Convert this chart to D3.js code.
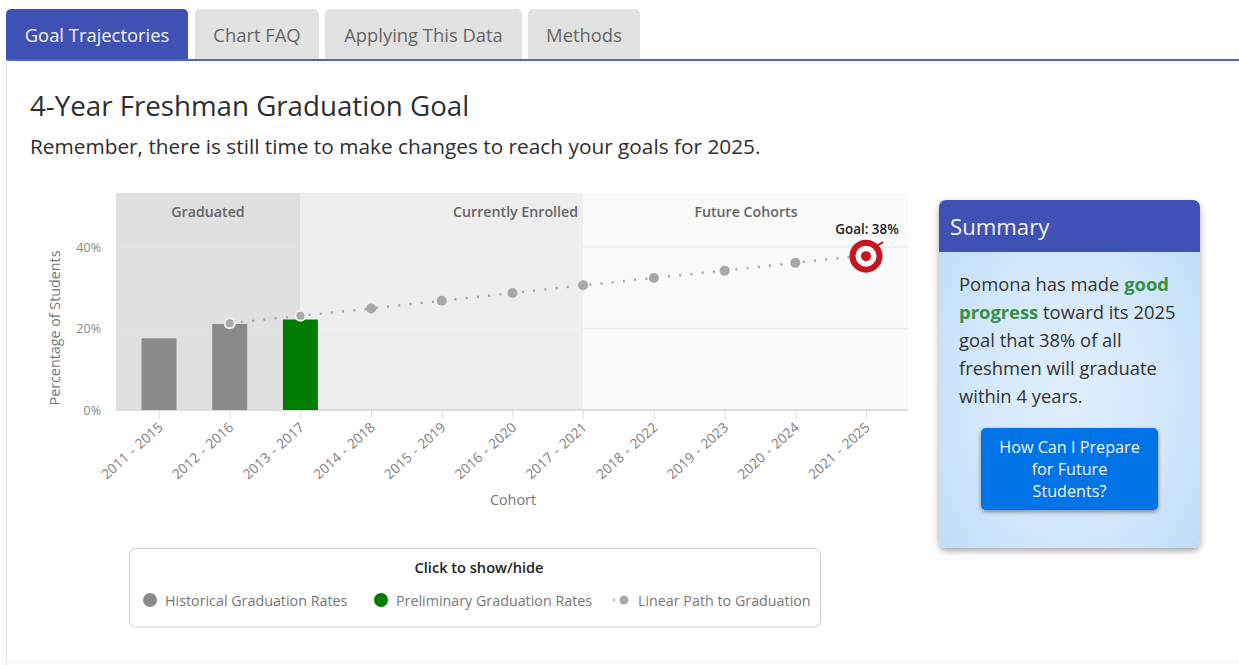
<!DOCTYPE html>
<html lang="en">
  <head>
    <meta charset="utf-8">
    <title>4-Year Freshman Graduation Goal</title>
    <script type="text/javascript" src="https://cdn.jsdelivr.net/npm/d3@7"></script>
    <style>
      html, body { margin: 0; padding: 0; background: #fff; overflow: hidden; }
      body { width: 1239px; height: 665px; position: relative; font-family: "Open Sans", sans-serif; color: #333; }
      .tab { position: absolute; top: 9px; height: 51px; line-height: 52px; text-align: center; font-size: 18.4px;
             background: #e2e2e2; color: #666; border-radius: 5px 5px 0 0; }
      .tab.active { background: #3f51b5; color: #f2f4fb; }
      .tab-line { position: absolute; left: 6px; right: 0; top: 59px; height: 2px; background: #5366bd; }
      .left-line { position: absolute; left: 6px; top: 60px; width: 1px; height: 605px; background: #e4e4e4; }
      .bottom-line { position: absolute; left: 6px; right: 0; top: 661px; height: 1px; background: #f3f3f3; }
      h2 { position: absolute; left: 30px; top: 87px; margin: 0; font-size: 27.7px; font-weight: 400; line-height: 36px; color: #2e2e2e; white-space: nowrap; }
      .sub { position: absolute; left: 30px; top: 132px; font-size: 20.8px; line-height: 28px; color: #2e2e2e; white-space: nowrap; }
      #chart { position: absolute; left: 0; top: 0; }
      .card { position: absolute; left: 939px; top: 200px; width: 261px; height: 348px; border-radius: 7px; overflow: hidden;
              box-shadow: 0 3px 6px rgba(0,0,0,.35);
              background: radial-gradient(ellipse at 50% 55%, #e0effc 0%, #d4e8fb 50%, #b9dbf8 100%); }
      .card-head { height: 52px; line-height: 54px; background: #3f51b5; color: #f2f4fb; font-size: 22.2px; padding-left: 11px; }
      .card-text { position: absolute; left: 20px; top: 70px; width: 235px; font-size: 18.4px; line-height: 28px; color: #333; white-space: nowrap; }
      .card-text b { color: #3a8f47; font-weight: 700; }
      .btn { position: absolute; left: 42px; top: 228px; width: 177px; height: 82px; border-radius: 5px; background: #0073e6;
             color: #eef5fd; text-align: center; font-size: 16.2px; line-height: 22px; padding-top: 8px; box-sizing: border-box;
             box-shadow: 0 2px 4px rgba(0,0,0,.4); }
    </style>
  </head>
  <body>
    <div class="tab active" style="left:6px;width:182px">Goal Trajectories</div>
    <div class="tab" style="left:195px;width:124px">Chart FAQ</div>
    <div class="tab" style="left:325px;width:197px">Applying This Data</div>
    <div class="tab" style="left:528px;width:112px">Methods</div>
    <div class="tab-line"></div>
    <div class="left-line"></div>
    <div class="bottom-line"></div>
    <h2>4-Year Freshman Graduation Goal</h2>
    <div class="sub">Remember, there is still time to make changes to reach your goals for 2025.</div>
    <div id="chart"></div>
    <div class="card">
      <div class="card-head">Summary</div>
      <div class="card-text">Pomona has made <b>good</b><br><b>progress</b> toward its 2025<br>goal that 38% of all<br>freshmen will graduate<br>within 4 years.</div>
      <div class="btn">How Can I Prepare<br>for Future<br>Students?</div>
    </div>
    <script type="text/javascript">
      var cohorts = ["2011 - 2015","2012 - 2016","2013 - 2017","2014 - 2018","2015 - 2019","2016 - 2020",
                     "2017 - 2021","2018 - 2022","2019 - 2023","2020 - 2024","2021 - 2025"];
      var historical = [17.6, 21.1, null, null, null, null, null, null, null, null, null];
      var preliminary = [null, null, 22.2, null, null, null, null, null, null, null, null];
      var linearPath = [null, 21.3, 23.1, 24.9, 26.8, 28.7, 30.6, 32.4, 34.2, 36.1, 38];
      var yTicks = [0, 20, 40];
      var regionNames = ["Graduated", "Currently Enrolled", "Future Cohorts"];
      var legendNames = ["Historical Graduation Rates", "Preliminary Graduation Rates", "Linear Path to Graduation"];
      var goal = 38;

      var w = 1239;
      var h = 665;
      var left = 116, right = 908, top0 = 193, base = 410;
      var font = '"Open Sans", sans-serif';

      var svg = d3.select("#chart")
        .append("svg")
        .attr("width", w)
        .attr("height", h);

      var xScale = d3.scalePoint().domain(cohorts).range([159, 866]);
      var yScale = d3.scaleLinear().domain([0, 40]).range([base, 247]);

      var bands = [
        {x0: left, x1: xScale(cohorts[2]), fill: "#e0e0e0", grid: "#e3e3e3", name: regionNames[0], tx: 208, anchor: "middle"},
        {x0: xScale(cohorts[2]), x1: xScale(cohorts[6]), fill: "#eeeeee", grid: "#f1f1f1", name: regionNames[1], tx: 578, anchor: "end"},
        {x0: xScale(cohorts[6]), x1: right, fill: "#fafafa", grid: "#ededed", name: regionNames[2], tx: 746, anchor: "middle"}
      ];

      svg.selectAll("rect.band")
        .data(bands)
        .enter()
        .append("rect")
        .attr("class", "band")
        .attr("x", function(d) { return d.x0; })
        .attr("y", top0)
        .attr("width", function(d) { return d.x1 - d.x0; })
        .attr("height", base - top0)
        .attr("fill", function(d) { return d.fill; });

      // gridlines
      bands.forEach(function(b, i) {
        svg.selectAll("line.grid" + i)
          .data(yTicks.slice(1))
          .enter()
          .append("line")
          .attr("x1", b.x0)
          .attr("x2", b.x1)
          .attr("y1", function(d) { return yScale(d); })
          .attr("y2", function(d) { return yScale(d); })
          .attr("stroke", b.grid)
          .attr("stroke-width", 1.5);
      });

      svg.selectAll("text.band-label")
        .data(bands)
        .enter()
        .append("text")
        .attr("class", "band-label")
        .attr("x", function(d) { return d.tx; })
        .attr("y", 216.5)
        .attr("text-anchor", function(d) { return d.anchor; })
        .attr("font-family", font)
        .attr("font-size", 14.2)
        .attr("font-weight", 600)
        .attr("fill", "#666")
        .text(function(d) { return d.name; });

      // x axis
      var xAxis = d3.axisBottom(xScale).tickSize(9).tickPadding(5);
      var gx = svg.append("g")
        .attr("transform", "translate(0," + base + ")")
        .call(xAxis);
      gx.select(".domain").remove();
      svg.append("line")
        .attr("x1", left).attr("x2", right)
        .attr("y1", base).attr("y2", base)
        .attr("stroke", "#dcdcdc").attr("stroke-width", 2);
      gx.selectAll(".tick line").attr("stroke", "#ddd");
      gx.selectAll("text")
        .attr("font-family", font)
        .attr("font-size", 13.8)
        .attr("word-spacing", 1)
        .attr("fill", "#808080")
        .attr("text-anchor", "end")
        .attr("y", 0)
        .attr("dy", "0.35em")
        .attr("transform", "translate(1,15) rotate(-42)");

      // y axis
      var yAxis = d3.axisLeft(yScale).tickValues(yTicks).tickSize(0).tickPadding(15)
        .tickFormat(function(d) { return d + "%"; });
      var gy = svg.append("g")
        .attr("transform", "translate(116,0)")
        .call(yAxis);
      gy.select(".domain").remove();
      gy.selectAll("text")
        .attr("font-family", font)
        .attr("font-size", 12.5)
        .attr("fill", "#888");

      svg.append("text")
        .attr("transform", "rotate(-90)")
        .attr("x", -328)
        .attr("y", 60)
        .attr("text-anchor", "middle")
        .attr("font-family", font)
        .attr("font-size", 14.3)
        .attr("fill", "#777")
        .text("Percentage of Students");

      svg.append("text")
        .attr("x", 513)
        .attr("y", 505)
        .attr("text-anchor", "middle")
        .attr("font-family", font)
        .attr("font-size", 14.4)
        .attr("fill", "#777")
        .text("Cohort");

      // bars
      var barWidth = 35;
      function drawBars(values, color) {
        var rows = cohorts.map(function(c, i) { return {cohort: c, value: values[i]}; })
          .filter(function(d) { return d.value !== null; });
        svg.selectAll(null)
          .data(rows)
          .enter()
          .append("rect")
          .attr("x", function(d) { return xScale(d.cohort) - barWidth / 2; })
          .attr("y", function(d) { return yScale(d.value); })
          .attr("width", barWidth)
          .attr("height", function(d) { return base - yScale(d.value); })
          .attr("fill", color);
      }
      drawBars(historical, "#8a8a8a");
      drawBars(preliminary, "#007d00");

      // linear path
      var pathRows = cohorts.map(function(c, i) { return {cohort: c, value: linearPath[i]}; })
        .filter(function(d) { return d.value !== null; });
      var line = d3.line()
        .x(function(d) { return xScale(d.cohort); })
        .y(function(d) { return yScale(d.value); });
      svg.append("path")
        .datum(pathRows)
        .attr("d", line)
        .attr("fill", "none")
        .attr("stroke", "#a8a8a8")
        .attr("stroke-width", 2.5)
        .attr("stroke-dasharray", "2,9.3");

      svg.selectAll("circle.pt")
        .data(pathRows.slice(0, -1))
        .enter()
        .append("circle")
        .attr("class", "pt")
        .attr("cx", function(d) { return xScale(d.cohort); })
        .attr("cy", function(d) { return yScale(d.value); })
        .attr("r", 5)
        .attr("fill", "#a8a8a8")
        .attr("stroke", function(d, i) { return i < 2 ? "#efefef" : "none"; })
        .attr("stroke-width", 2);

      // goal target
      var gx2 = xScale(cohorts[10]), gy2 = yScale(goal);
      var target = svg.append("g").attr("transform", "translate(" + gx2 + "," + (gy2 + 1) + ")");
      target.append("circle").attr("r", 16).attr("fill", "#fff");
      target.append("circle").attr("r", 13.5).attr("fill", "none").attr("stroke", "#c4161c").attr("stroke-width", 6);
      target.append("circle").attr("r", 5).attr("fill", "#c4161c");
      target.append("line").attr("x1", 7).attr("y1", -8).attr("x2", 17).attr("y2", -14)
        .attr("stroke", "#c4161c").attr("stroke-width", 2);

      svg.append("text")
        .attr("x", gx2 + 1)
        .attr("y", 233.5)
        .attr("text-anchor", "middle")
        .attr("font-family", font)
        .attr("font-size", 13.4)
        .attr("font-weight", 600)
        .attr("fill", "#222")
        .text("Goal: " + goal + "%");

      // legend
      svg.append("rect")
        .attr("x", 129.5).attr("y", 548.5)
        .attr("width", 691).attr("height", 78.5)
        .attr("rx", 6)
        .attr("fill", "#fff")
        .attr("stroke", "#ccc");
      svg.append("text")
        .attr("x", 479).attr("y", 573)
        .attr("text-anchor", "middle")
        .attr("font-family", font)
        .attr("font-size", 14.6)
        .attr("font-weight", 600)
        .attr("fill", "#222")
        .text("Click to show/hide");

      var legendDots = [[150, "#8a8a8a", 7], [381, "#007d00", 7], [624, "#a8a8a8", 4.5]];
      var legendText = [165, 396, 638];
      legendNames.forEach(function(name, i) {
        svg.append("circle")
          .attr("cx", legendDots[i][0]).attr("cy", 600)
          .attr("r", legendDots[i][2])
          .attr("fill", legendDots[i][1]);
        svg.append("text")
          .attr("x", legendText[i]).attr("y", 606)
          .attr("font-family", font)
          .attr("font-size", 14.3)
          .attr("fill", "#777")
          .text(name);
      });
      svg.append("line")
        .attr("x1", 613).attr("x2", 618).attr("y1", 600).attr("y2", 600)
        .attr("stroke", "#a8a8a8").attr("stroke-width", 2).attr("stroke-dasharray", "2,3");
    </script>
  </body>
</html>
